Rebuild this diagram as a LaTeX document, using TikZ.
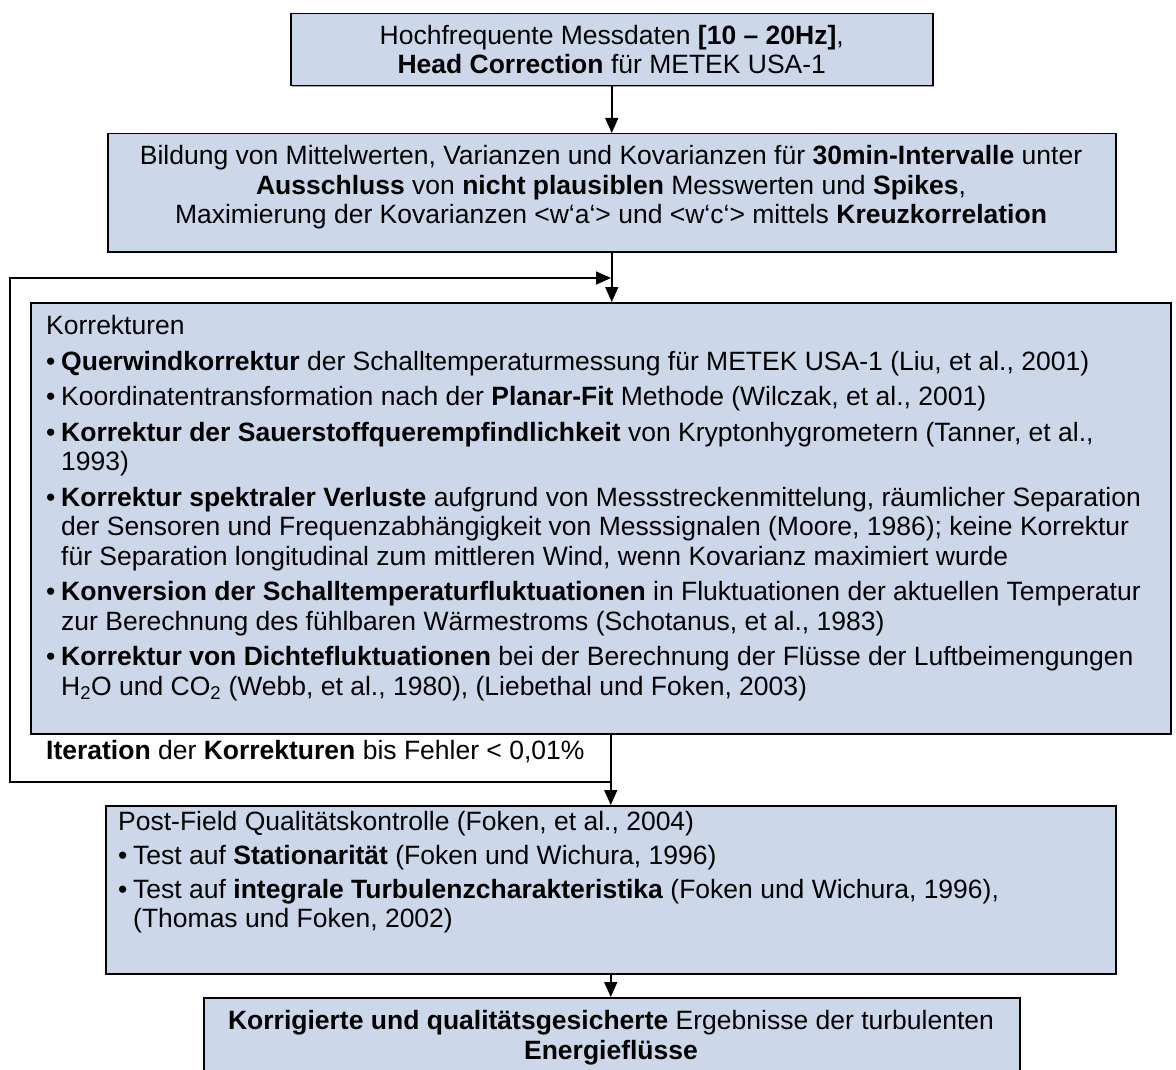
\documentclass[tikz,border=0pt]{standalone}
\usepackage{fontspec}
\setmainfont{Liberation Sans}
\usetikzlibrary{arrows.meta,shadows}
\definecolor{boxfill}{RGB}{204,216,234}
\begin{document}
\begin{tikzpicture}[x=1pt,y=-1pt,
  box/.style={draw=black, line width=1.5pt, fill=boxfill, inner sep=0pt, anchor=north west,
    drop shadow={shadow xshift=1.5pt, shadow yshift=-1.5pt, fill=black!50, opacity=0.7}},
  conn/.style={line width=1.5pt},
  arr/.style={conn, -{Triangle[width=13pt,length=15pt]}},
  txt/.style={inner sep=0pt, font=\fontsize{26.5}{29.5}\selectfont}
]
\useasboundingbox (0,0) rectangle (1176,1070);
\newcommand{\bul}{\makebox[15pt][l]{•}}
\newcommand{\cont}{\hspace*{15pt}}
% boxes
\node[box, minimum width=642pt, minimum height=72pt] (b1) at (290,13) {};
\node[box, minimum width=1008pt, minimum height=118pt] (b2) at (107,133) {};
\node[box, minimum width=1140pt, minimum height=431pt] (b3) at (30,302) {};
\node[box, minimum width=1010pt, minimum height=168pt] (b4) at (105,805) {};
\node[box, minimum width=816pt, minimum height=95pt] (b5) at (203,997) {};
% texts
\node[txt, align=center] (t1) at (b1.center) {Hochfrequente Messdaten \textbf{[10 – 20Hz]},\\ \textbf{Head Correction} für METEK USA-1};
\node[txt, align=center] (t2) at (611,187.5) {Bildung von Mittelwerten, Varianzen und Kovarianzen für \textbf{30min-Intervalle} unter\\ \textbf{Ausschluss} von \textbf{nicht plausiblen} Messwerten und \textbf{Spikes},\\ Maximierung der Kovarianzen <w‘a‘> und <w‘c‘> mittels \textbf{Kreuzkorrelation}};
\node[txt, align=left, anchor=north west] (t3) at (46,315.5) {Korrekturen\\[6pt]
\bul\textbf{Querwindkorrektur} der Schalltemperaturmessung für METEK USA-1 (Liu, et al., 2001)\\[6pt]
\bul Koordinatentransformation nach der \textbf{Planar-Fit} Methode (Wilczak, et al., 2001)\\[6pt]
\bul\textbf{Korrektur der Sauerstoffquerempfindlichkeit} von Kryptonhygrometern (Tanner, et al.,\\
\cont 1993)\\[6pt]
\bul\textbf{Korrektur spektraler Verluste} aufgrund von Messstreckenmittelung, räumlicher Separation\\
\cont der Sensoren und Frequenzabhängigkeit von Messsignalen (Moore, 1986); keine Korrektur\\
\cont für Separation longitudinal zum mittleren Wind, wenn Kovarianz maximiert wurde\\[6pt]
\bul\textbf{Konversion der Schalltemperaturfluktuationen} in Fluktuationen der aktuellen Temperatur\\
\cont zur Berechnung des fühlbaren Wärmestroms (Schotanus, et al., 1983)\\[6pt]
\bul\textbf{Korrektur von Dichtefluktuationen} bei der Berechnung der Flüsse der Luftbeimengungen\\
\cont H\textsubscript{2}O und CO\textsubscript{2} (Webb, et al., 1980), (Liebethal und Foken, 2003)};
\node[txt, anchor=west] (t6) at (46,752) {\textbf{Iteration} der \textbf{Korrekturen} bis Fehler < 0,01\%};
\node[txt, align=left, anchor=north west] (t4) at (118,811) {Post-Field Qualitätskontrolle (Foken, et al., 2004)\\[4.5pt]
\bul Test auf \textbf{Stationarität} (Foken und Wichura, 1996)\\[4.5pt]
\bul Test auf \textbf{integrale Turbulenzcharakteristika} (Foken und Wichura, 1996),\\
\cont(Thomas und Foken, 2002)};
\node[txt, align=center] (t5) at (611,1037.5) {\textbf{Korrigierte und qualitätsgesicherte} Ergebnisse der turbulenten\\ \textbf{Energieflüsse}};
% connectors
\coordinate (lbot) at (611,782);
\coordinate (lbl) at (10,782);
\coordinate (ltl) at (10,278);
\coordinate (ltop) at (611,278);
\draw[arr] (b1.south) -- (b2.north);
\draw[arr] (b2.south) -- (b2.south |- b3.north);
\draw[arr] (b4.north |- b3.south) -- (b4.north);
\draw[arr] (b4.south) -- (b4.south |- b5.north);
\draw[arr] (lbot) -- (lbl) -- (ltl) -- (ltop);
\end{tikzpicture}
\end{document}
